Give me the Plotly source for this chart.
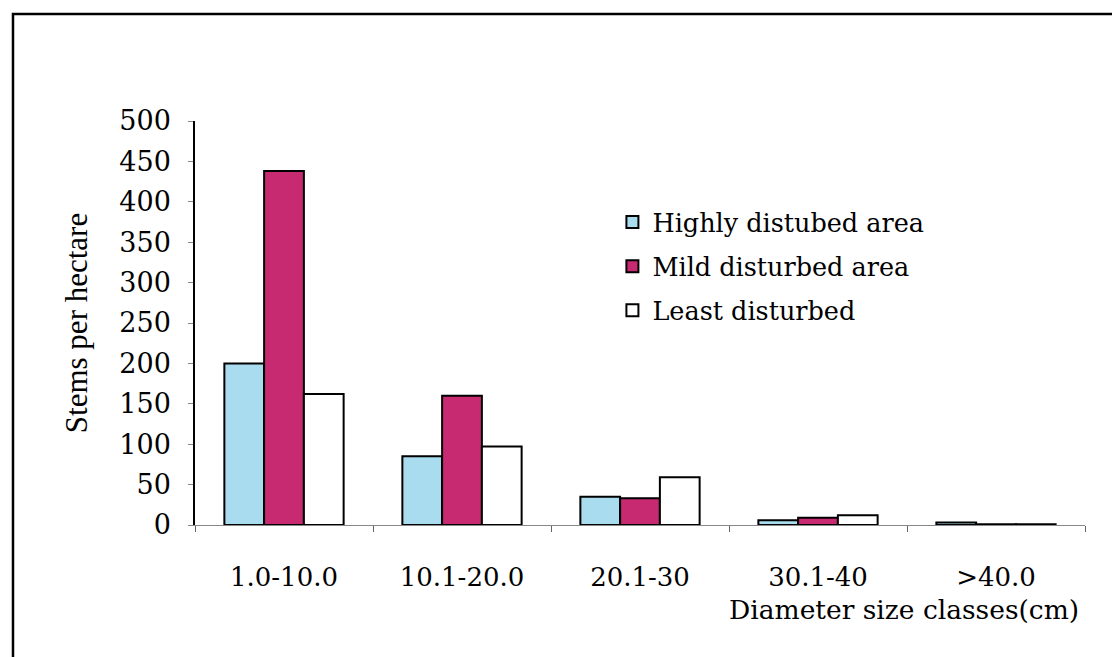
import plotly.graph_objects as go

categories = ["1.0-10.0", "10.1-20.0", "20.1-30", "30.1-40", ">40.0"]
highly = [200, 85, 35, 6, 3]
mild = [438, 160, 33, 9, 1]
least = [162, 97, 59, 12, 1]
series_names = ["Highly distubed area", "Mild disturbed area", "Least disturbed"]
colors = ["#a9dcef", "#c82a72", "#ffffff"]
y_ticks = [0, 50, 100, 150, 200, 250, 300, 350, 400, 450, 500]

FONT = "DejaVu Serif"
FONT2 = "Liberation Serif"

fig = go.Figure()
for i, (name, vals, col) in enumerate(zip(series_names, [highly, mild, least], colors)):
    fig.add_trace(go.Bar(
        x=categories, y=vals, name=name, legendgroup=f"g{i}",
        marker=dict(color=col, line=dict(color="black", width=2)),
    ))

fig.update_layout(
    width=1112, height=657,
    paper_bgcolor="white", plot_bgcolor="white",
    margin=dict(l=195, r=27, t=121, b=132),
    barmode="group", bargap=0.33, bargroupgap=0,
    font=dict(family=FONT, color="black", size=24),
    showlegend=True,
    legend=dict(x=0.469, y=0.807, xanchor="left", yanchor="top",
                font=dict(family=FONT, size=25.5), tracegroupgap=8,
                bgcolor="rgba(0,0,0,0)", itemwidth=30),
    xaxis=dict(showline=True, linecolor="#888888", linewidth=1,
               ticks="outside", tickson="boundaries", ticklen=6, tickcolor="#666666",
               tickfont=dict(family=FONT, size=26), showgrid=False,
               ticklabelstandoff=29),
    yaxis=dict(range=[0, 500], tickvals=y_ticks, showline=True, linecolor="black",
               linewidth=1.5, ticks="outside", ticklen=5, tickcolor="#888888",
               tickfont=dict(family=FONT, size=27), showgrid=False, zeroline=False,
               ticklabelstandoff=12,
               title=dict(text="Stems per hectare", font=dict(family=FONT2, size=31), standoff=22)),
    shapes=[dict(type="rect", xref="paper", yref="paper", x0=-0.2045, x1=1.1,
                 y0=-0.5, y1=1.265, line=dict(color="black", width=2.5), layer="below")],
    annotations=[dict(text="Diameter size classes(cm)", xref="paper", yref="paper",
                      x=0.995, y=-0.165, xanchor="right", yanchor="top", showarrow=False,
                      font=dict(family=FONT, size=26.5))],
)

fig.write_html("out.html")
